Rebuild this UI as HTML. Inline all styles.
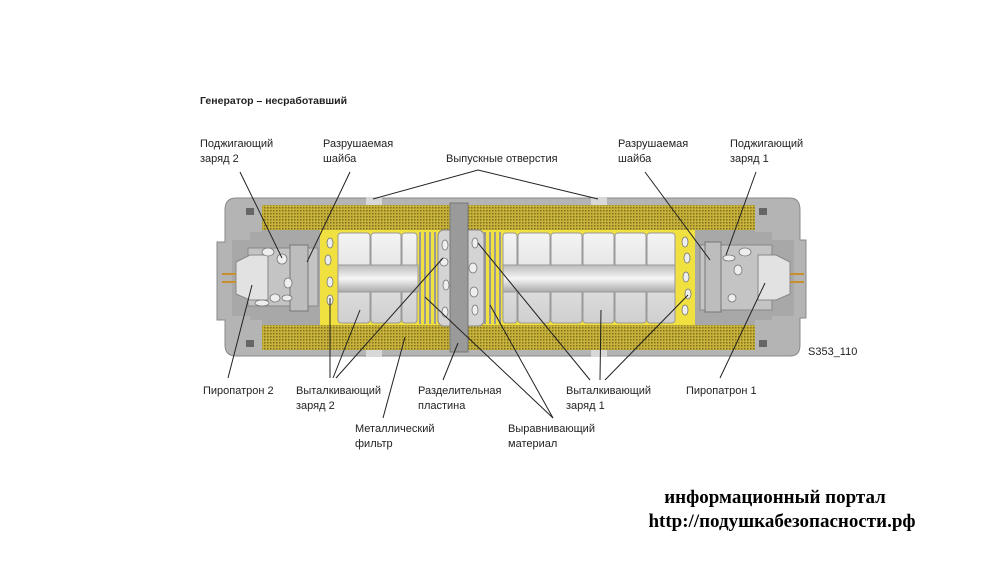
<!DOCTYPE html>
<html><head><meta charset="utf-8"><style>
body{margin:0;background:#fff;}
svg{display:block}
.t{font-family:"Liberation Sans","DejaVu Sans",sans-serif;font-size:11px;fill:#222}
.w{font-family:"Liberation Serif",serif;font-size:19px;font-weight:bold;fill:#000}
</style></head><body>
<svg width="1000" height="583" viewBox="0 0 1000 583" xmlns="http://www.w3.org/2000/svg">
<defs>
<pattern id="mesh" width="3" height="3" patternUnits="userSpaceOnUse">
<rect width="3" height="3" fill="#c8b23a"/><rect width="1.5" height="1.5" fill="#7d7020"/>
</pattern>
<linearGradient id="blk" x1="0" y1="0" x2="0" y2="1"><stop offset="0" stop-color="#f4f4f4"/><stop offset="1" stop-color="#cfcfcf"/></linearGradient>
<linearGradient id="sh" x1="0" y1="0" x2="0" y2="1"><stop offset="0" stop-color="#bbb"/><stop offset="0.5" stop-color="#f6f6f6"/><stop offset="1" stop-color="#aaa"/></linearGradient>
</defs>
<text class="t" x="200" y="104" style="font-weight:bold;font-size:10.5px">Генератор – несработавший</text>

<path d="M236,198 H790 Q800,198 800,210 V240 H806 V318 H800 V345 Q800,356 790,356 H236 Q225,356 225,345 V320 H217 V242 H225 V210 Q225,198 236,198Z" fill="#b4b4b4" stroke="#888" stroke-width="1"/>
<rect x="262" y="205" width="493" height="145" fill="url(#mesh)"/>
<rect x="320" y="230" width="375" height="95" fill="#f0e040"/>
<path d="M232,240 H250 V232 H262 V230 H320 V325 H262 V320 H250 V316 H232Z" fill="#a8a8a8"/>
<rect x="248" y="248" width="70" height="58" fill="#c4c4c4" stroke="#888"/>
<rect x="290" y="245" width="18" height="66" fill="#bdbdbd" stroke="#777"/>
<path d="M236,262 L250,255 H268 V300 H250 L236,294Z" fill="#e2e2e2" stroke="#888"/>
<line x1="222" y1="274" x2="236" y2="274" stroke="#c8902a" stroke-width="2"/>
<line x1="222" y1="282" x2="236" y2="282" stroke="#c8902a" stroke-width="2"/>
<path d="M695,230 H755 V232 H772 V240 H794 V316 H772 V320 H755 V325 H695Z" fill="#a8a8a8"/>
<rect x="700" y="245" width="72" height="65" fill="#c4c4c4" stroke="#888"/>
<rect x="705" y="242" width="16" height="70" fill="#bdbdbd" stroke="#777"/>
<path d="M790,262 L776,255 H758 V300 H776 L790,294Z" fill="#e2e2e2" stroke="#888"/>
<line x1="790" y1="274" x2="804" y2="274" stroke="#c8902a" stroke-width="2"/>
<line x1="790" y1="282" x2="804" y2="282" stroke="#c8902a" stroke-width="2"/>
<g fill="#eee" stroke="#777" stroke-width="0.8">
<ellipse cx="268" cy="252" rx="6" ry="4"/><ellipse cx="282" cy="259" rx="5" ry="5"/><ellipse cx="288" cy="283" rx="4" ry="5"/><ellipse cx="275" cy="298" rx="5" ry="4"/><ellipse cx="262" cy="303" rx="7" ry="3"/><ellipse cx="287" cy="298" rx="5" ry="3"/>
<ellipse cx="330" cy="243" rx="3" ry="5"/><ellipse cx="328" cy="260" rx="3" ry="5"/><ellipse cx="330" cy="282" rx="3" ry="5"/><ellipse cx="330" cy="300" rx="3" ry="5"/>
<ellipse cx="685" cy="242" rx="3" ry="5"/><ellipse cx="687" cy="258" rx="3" ry="5"/><ellipse cx="686" cy="277" rx="3" ry="5"/><ellipse cx="688" cy="294" rx="3" ry="5"/><ellipse cx="685" cy="310" rx="3" ry="5"/>
<ellipse cx="729" cy="258" rx="6" ry="3"/><ellipse cx="745" cy="252" rx="6" ry="4"/><ellipse cx="738" cy="270" rx="4" ry="5"/><ellipse cx="732" cy="298" rx="4" ry="4"/>
</g>
<g fill="url(#blk)" stroke="#999" stroke-width="1">
<rect x="338" y="233" width="32" height="90" rx="3"/><rect x="371" y="233" width="30" height="90" rx="3"/><rect x="402" y="233" width="15" height="90" rx="3"/>
<rect x="503" y="233" width="14" height="90" rx="3"/><rect x="518" y="233" width="32" height="90" rx="3"/><rect x="551" y="233" width="31" height="90" rx="3"/><rect x="583" y="233" width="31" height="90" rx="3"/><rect x="615" y="233" width="31" height="90" rx="3"/><rect x="647" y="233" width="28" height="90" rx="3"/>
</g>
<rect x="338" y="265" width="80" height="27" fill="url(#sh)" stroke="#999"/>
<rect x="503" y="265" width="172" height="27" fill="url(#sh)" stroke="#999"/>
<g stroke="#999" stroke-width="2">
<line x1="420" y1="232" x2="420" y2="324"/><line x1="425" y1="232" x2="425" y2="324"/><line x1="430" y1="232" x2="430" y2="324"/><line x1="435" y1="232" x2="435" y2="324"/>
<line x1="485" y1="232" x2="485" y2="324"/><line x1="490" y1="232" x2="490" y2="324"/><line x1="495" y1="232" x2="495" y2="324"/><line x1="500" y1="232" x2="500" y2="324"/>
</g>
<rect x="438" y="230" width="46" height="96" rx="6" fill="#d4d4d4" stroke="#888"/>
<rect x="450" y="203" width="18" height="149" fill="#9a9a9a" stroke="#777"/>
<g fill="#eee" stroke="#777" stroke-width="0.8">
<ellipse cx="445" cy="245" rx="3" ry="5"/><ellipse cx="444" cy="262" rx="4" ry="4"/><ellipse cx="446" cy="285" rx="3" ry="5"/><ellipse cx="445" cy="312" rx="3" ry="5"/>
<ellipse cx="475" cy="243" rx="3" ry="5"/><ellipse cx="473" cy="268" rx="4" ry="5"/><ellipse cx="474" cy="292" rx="4" ry="5"/><ellipse cx="475" cy="310" rx="3" ry="5"/>
</g>
<rect x="366" y="197" width="16" height="8" fill="#d8d8d8"/><rect x="591" y="197" width="16" height="8" fill="#d8d8d8"/>
<rect x="366" y="350" width="16" height="7" fill="#d8d8d8"/><rect x="591" y="350" width="16" height="7" fill="#d8d8d8"/>
<rect x="246" y="208" width="8" height="7" fill="#666"/><rect x="246" y="340" width="8" height="7" fill="#666"/>
<rect x="759" y="208" width="8" height="7" fill="#666"/><rect x="759" y="340" width="8" height="7" fill="#666"/>

<g stroke="#222" stroke-width="1" fill="none">
<line x1="240" y1="172" x2="282" y2="258"/><line x1="350" y1="172" x2="307" y2="262"/>
<polyline points="373,199 478,170 598,199"/>
<line x1="645" y1="172" x2="710" y2="260"/><line x1="756" y1="172" x2="726" y2="255"/>
<line x1="228" y1="378" x2="252" y2="285"/>
<line x1="330" y1="378" x2="330" y2="298"/><line x1="333" y1="378" x2="360" y2="310"/><line x1="336" y1="378" x2="443" y2="258"/>
<line x1="443" y1="380" x2="458" y2="343"/>
<line x1="383" y1="418" x2="405" y2="337"/>
<line x1="553" y1="418" x2="425" y2="297"/><line x1="553" y1="418" x2="490" y2="305"/>
<line x1="590" y1="380" x2="478" y2="243"/><line x1="600" y1="380" x2="601" y2="310"/><line x1="605" y1="380" x2="688" y2="295"/>
<line x1="720" y1="378" x2="765" y2="283"/>
</g>

<text class="t" x="200" y="147">Поджигающий</text><text class="t" x="200" y="162">заряд 2</text>
<text class="t" x="323" y="147">Разрушаемая</text><text class="t" x="323" y="162">шайба</text>
<text class="t" x="446" y="162">Выпускные отверстия</text>
<text class="t" x="618" y="147">Разрушаемая</text><text class="t" x="618" y="162">шайба</text>
<text class="t" x="730" y="147">Поджигающий</text><text class="t" x="730" y="162">заряд 1</text>
<text class="t" x="808" y="355">S353_110</text>
<text class="t" x="203" y="394">Пиропатрон 2</text>
<text class="t" x="296" y="394">Выталкивающий</text><text class="t" x="296" y="409">заряд 2</text>
<text class="t" x="418" y="394">Разделительная</text><text class="t" x="418" y="409">пластина</text>
<text class="t" x="566" y="394">Выталкивающий</text><text class="t" x="566" y="409">заряд 1</text>
<text class="t" x="686" y="394">Пиропатрон 1</text>
<text class="t" x="355" y="432">Металлический</text><text class="t" x="355" y="447">фильтр</text>
<text class="t" x="508" y="432">Выравнивающий</text><text class="t" x="508" y="447">материал</text>

<text class="w" x="775" y="503" text-anchor="middle">информационный портал</text>
<text class="w" x="782" y="527" text-anchor="middle">http://подушкабезопасности.рф</text>
</svg>
</body></html>
